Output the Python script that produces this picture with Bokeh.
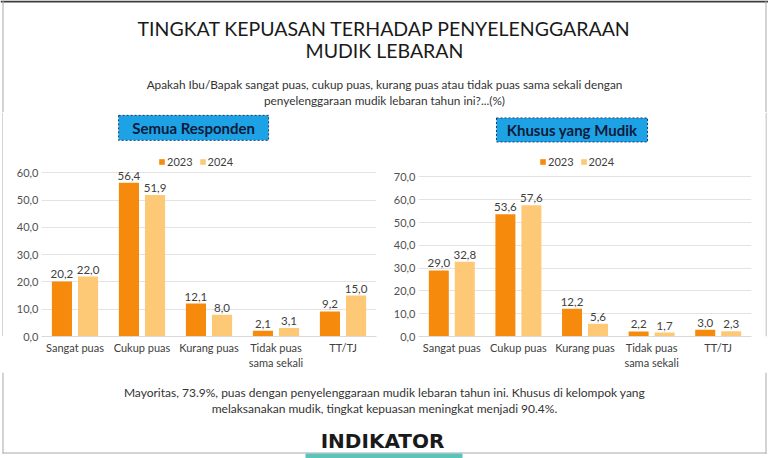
from bokeh.plotting import figure
from bokeh.models import Range1d, FactorRange, FixedTicker, Legend, LegendItem, ColumnDataSource
from bokeh.layouts import column, row
from bokeh.transform import dodge
from bokeh.core.properties import value
from bokeh.embed import file_html
from bokeh.resources import INLINE

# ---------------- data ----------------
categories = ["Sangat puas", "Cukup puas", "Kurang puas", "Tidak puas\nsama sekali", "TT/TJ"]
years = ["2023", "2024"]
semua_2023 = [20.2, 56.4, 12.1, 2.1, 9.2]
semua_2024 = [22.0, 51.9, 8.0, 3.1, 15.0]
mudik_2023 = [29.0, 53.6, 12.2, 2.2, 3.0]
mudik_2024 = [32.8, 57.6, 5.6, 1.7, 2.3]
semua_ticks = [0, 10, 20, 30, 40, 50, 60]
mudik_ticks = [0, 10, 20, 30, 40, 50, 60, 70]

title_lines = ["TINGKAT KEPUASAN TERHADAP PENYELENGGARAAN", "MUDIK LEBARAN"]
subtitle_lines = ["Apakah Ibu/Bapak sangat puas, cukup puas, kurang puas atau tidak puas sama sekali dengan",
                  "penyelenggaraan mudik lebaran tahun ini?...(%)"]
footer_lines = ["Mayoritas, 73.9%, puas dengan penyelenggaraan mudik lebaran tahun ini. Khusus di kelompok yang",
                "melaksanakan mudik, tingkat kepuasan meningkat menjadi 90.4%."]
logo_text = "INDIKATOR"

C23 = "#F68A0C"
C24 = "#FDC977"
FONT = "Lato"
FRAME = "#a8a8a8"


def fmt(v):
    return f"{v:.1f}".replace(".", ",")


def make_chart(v23, v24, ticks, ytop, bl, br, box_text, box_x, box_y, box_w, box_h, leg_loc):
    p = figure(width=381, height=260, x_range=FactorRange(*categories, range_padding=0),
               y_range=Range1d(0, ytop), output_backend="svg", toolbar_location=None,
               min_border_left=bl, min_border_right=br, min_border_top=0, min_border_bottom=34)
    p.outline_line_color = None
    src = ColumnDataSource(dict(cat=categories, v23=v23, v24=v24,
                                l23=[fmt(v) for v in v23], l24=[fmt(v) for v in v24]))
    r1 = p.vbar(x=dodge("cat", -0.195, range=p.x_range), top="v23", width=0.3, source=src,
                fill_color=C23, line_color=None)
    r2 = p.vbar(x=dodge("cat", 0.195, range=p.x_range), top="v24", width=0.3, source=src,
                fill_color=C24, line_color=None)
    p.text(x=dodge("cat", -0.195, range=p.x_range), y="v23", text="l23", source=src,
           text_align="center", text_baseline="bottom", y_offset=-3,
           text_font=value(FONT), text_font_size="11.5px", text_color="#404040")
    p.text(x=dodge("cat", 0.195, range=p.x_range), y="v24", text="l24", source=src,
           text_align="center", text_baseline="bottom", y_offset=-3,
           text_font=value(FONT), text_font_size="11.5px", text_color="#404040")
    # axes
    p.yaxis.ticker = FixedTicker(ticks=ticks)
    p.yaxis.major_label_overrides = {t: fmt(t) for t in ticks}
    p.yaxis.axis_line_color = None
    p.yaxis.major_tick_line_color = None
    p.yaxis.minor_tick_line_color = None
    p.yaxis.major_tick_out = 0
    p.yaxis.major_tick_in = 0
    p.yaxis.minor_tick_out = 0
    p.yaxis.major_label_text_font = FONT
    p.yaxis.major_label_text_font_size = "11px"
    p.yaxis.major_label_text_color = "#505050"
    p.yaxis.major_label_standoff = 3
    p.ygrid.ticker = FixedTicker(ticks=ticks)
    p.ygrid.grid_line_color = "#e3e3e3"
    p.xgrid.grid_line_color = None
    p.xaxis.axis_line_color = "#d9d9d9"
    p.xaxis.major_tick_line_color = None
    p.xaxis.minor_tick_line_color = None
    p.xaxis.major_tick_out = 0
    p.xaxis.major_tick_in = 0
    p.xaxis.minor_tick_out = 0
    p.xaxis.major_label_text_font = FONT
    p.xaxis.major_label_text_font_size = "11px"
    p.xaxis.major_label_text_color = "#404040"
    p.xaxis.major_label_standoff = 4
    # legend
    leg = Legend(items=[LegendItem(label=years[0], renderers=[r1]), LegendItem(label=years[1], renderers=[r2])],
                 orientation="horizontal", location=leg_loc, glyph_width=7, glyph_height=7,
                 label_text_font=FONT, label_text_font_size="11px", label_text_color="#404040",
                 label_standoff=2, spacing=6, padding=0, margin=0, label_height=12,
                 border_line_color=None, background_fill_alpha=0)
    p.add_layout(leg)
    # heading box
    p.rect(x=[box_x], y=[box_y], width=box_w, height=box_h, width_units="screen", height_units="screen",
           fill_color="#1EA2E6", line_color="#1F3A68", line_dash="2 2", line_width=1)
    p.text(x=[box_x], y=[box_y], text=[box_text], text_align="center", text_baseline="middle",
           text_font=value(FONT), text_font_style="bold", text_font_size="15px", text_color="#0E1A3A")
    return p


left = make_chart(semua_2023, semua_2024, semua_ticks, 82.18, 38, 8,
                  "Semua Responden", 2.27, 76.55, 150, 25, (117, 168))
right = make_chart(mudik_2023, mudik_2024, mudik_ticks, 98.26, 34, 14,
                   "Khusus yang Mudik", 2.305, 90.6, 151, 24, (121, 168))


def canvas(w, h):
    c = figure(width=w, height=h, x_range=Range1d(0, w), y_range=Range1d(h, 0),
               x_axis_type=None, y_axis_type=None, output_backend="svg", toolbar_location=None,
               min_border=0)
    c.outline_line_color = None
    c.xgrid.visible = False
    c.ygrid.visible = False
    return c


# slide frame edges beside the charts
edge_l = canvas(3, 260)
edge_l.segment(x0=[2.5], y0=[0], x1=[2.5], y1=[260], line_color=FRAME, line_width=1)
edge_r = canvas(3, 260)
edge_r.segment(x0=[0.5], y0=[0], x1=[0.5], y1=[260], line_color=FRAME, line_width=1)

header = canvas(768, 112)
header.segment(x0=[0], y0=[1], x1=[768], y1=[1], line_color="#3c3c3c", line_width=2)
header.segment(x0=[2.5, 765.5], y0=[0, 0], x1=[2.5, 765.5], y1=[112, 112], line_color=FRAME, line_width=1)
header.text(x=[384, 384], y=[28, 50], text=title_lines, text_align="center", text_baseline="middle",
            text_font=value(FONT), text_font_size="19.5px", text_color="#1a1a1a")
header.text(x=[384, 384], y=[84, 100], text=subtitle_lines, text_align="center", text_baseline="middle",
            text_font=value(FONT), text_font_size="11.8px", text_color="#333333")

footer = canvas(768, 86)
footer.segment(x0=[2.5, 765.5], y0=[0, 0], x1=[2.5, 765.5], y1=[81, 81], line_color=FRAME, line_width=1)
footer.segment(x0=[2], y0=[80.5], x1=[766], y1=[80.5], line_color=FRAME, line_width=1)
footer.text(x=[384, 384], y=[20, 36], text=footer_lines, text_align="center", text_baseline="middle",
            text_font=value(FONT), text_font_size="12px", text_color="#333333")
footer.text(x=[382], y=[68], text=[logo_text], text_align="center", text_baseline="middle",
            text_font=value("DejaVu Sans"), text_font_style="bold", text_font_size="20px",
            text_color="#1a1a1a")
footer.quad(left=[305], right=[462], top=[81], bottom=[86], fill_color="#5CC3B9", line_color=None)

layout = column(header, row(edge_l, left, right, edge_r, spacing=0), footer, spacing=0)
open("out.html", "w").write(file_html(layout, INLINE))
